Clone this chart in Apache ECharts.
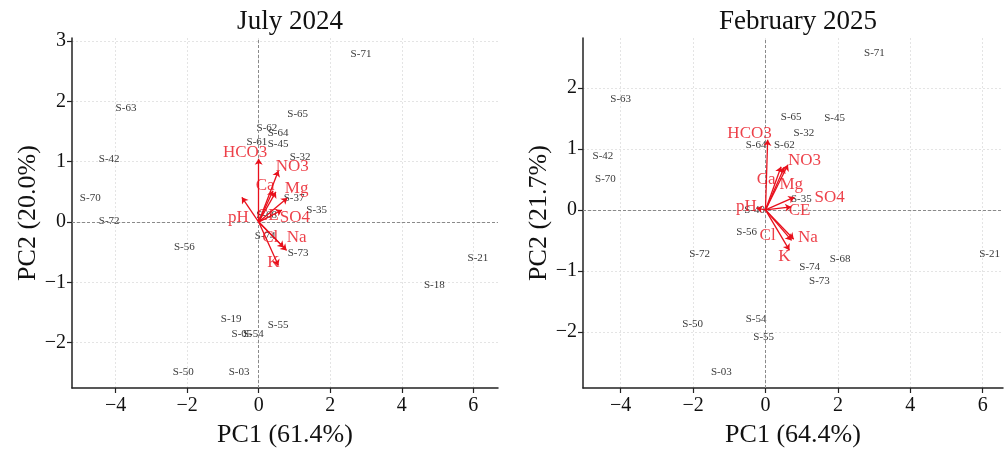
<!DOCTYPE html>
<html>
<head>
<meta charset="utf-8">
<script src="https://cdn.jsdelivr.net/npm/echarts@6/dist/echarts.min.js"></script>
<style>html,body{margin:0;padding:0;background:#fff}#c{width:1004px;height:452px}</style>
</head>
<body>
<div id="c"></div>
<script>
// ---- July 2024 samples ----
const julNames = ['S-71','S-63','S-65','S-62','S-64','S-61','S-45','S-42','S-32','S-70','S-72','S-37','S-35','S-68','S-56','S-74','S-73','S-21','S-18','S-19','S-55','S-05','S-54','S-50','S-03'];
const julPC1 = [2.86,-3.71,1.09,0.23,0.54,-0.05,0.54,-4.18,1.16,-4.71,-4.18,0.99,1.62,0.22,-2.08,0.18,1.10,6.13,4.91,-0.77,0.54,-0.47,-0.15,-2.11,-0.55];
const julPC2 = [2.78,1.89,1.79,1.55,1.47,1.33,1.29,1.05,1.08,0.40,0.01,0.39,0.19,0.11,-0.42,-0.24,-0.52,-0.59,-1.04,-1.61,-1.71,-1.86,-1.86,-2.48,-2.48];
// ---- February 2025 samples ----
const febNames = ['S-71','S-63','S-65','S-45','S-32','S-64','S-62','S-42','S-70','S-35','S-40','S-56','S-72','S-21','S-68','S-74','S-73','S-54','S-55','S-50','S-03'];
const febPC1 = [3.01,-4.00,0.71,1.91,1.06,-0.26,0.52,-4.49,-4.42,0.99,-0.30,-0.52,-1.82,6.19,2.06,1.22,1.49,-0.26,-0.05,-2.01,-1.22];
const febPC2 = [2.57,1.82,1.52,1.51,1.26,1.07,1.07,0.88,0.50,0.17,0.00,-0.37,-0.72,-0.72,-0.80,-0.94,-1.16,-1.79,-2.08,-1.88,-2.66];
// ---- loadings (arrow tips) and label anchors ----
const variables = ['HCO3','Ca','NO3','Mg','SO4','CE','pH','Cl','Na','K'];
const julLoadX = [0.00,0.40,0.55,0.80,0.65,0.48,-0.47,0.70,0.78,0.55];
const julLoadY = [1.05,0.52,0.85,0.40,0.20,0.50,0.41,-0.42,-0.47,-0.72];
const julLabX  = [-0.38,0.18,0.94,1.06,1.01,0.25,-0.57,0.32,1.06,0.41];
const julLabY  = [1.16,0.60,0.92,0.55,0.07,0.11,0.08,-0.25,-0.26,-0.67];
const febLoadX = [0.06,0.43,0.62,0.52,0.80,0.71,-0.25,0.72,0.78,0.66];
const febLoadY = [1.15,0.71,0.74,0.70,0.21,0.05,0.03,-0.50,-0.48,-0.66];
const febLabX  = [-0.44,0.02,1.08,0.71,1.77,0.94,-0.53,0.06,1.17,0.52];
const febLabY  = [1.26,0.50,0.81,0.42,0.20,-0.01,0.06,-0.42,-0.45,-0.77];
// ---- axes ----
const julXTicks = [-4,-2,0,2,4,6];
const julYTicks = [-2,-1,0,1,2,3];
const febXTicks = [-4,-2,0,2,4,6];
const febYTicks = [-2,-1,0,1,2];

const FONT = 'Liberation Serif';
const RED = '#e8101c';
const fmt = v => (v < 0 ? '\u2212' + Math.abs(v) : String(v));

function xAxis(idx, min, max, ticks, name) {
  return {
    type: 'value', gridIndex: idx, min: min, max: max,
    name: name, nameLocation: 'middle', nameGap: 34,
    nameTextStyle: {fontFamily: FONT, fontSize: 26, color: '#111'},
    axisLine: {show: true, onZero: false, lineStyle: {color: '#222', width: 1.5}},
    axisTick: {show: true, length: 5, lineStyle: {color: '#222', width: 1.2}, customValues: ticks},
    axisLabel: {fontFamily: FONT, fontSize: 20, color: '#111', margin: 8, customValues: ticks, formatter: fmt},
    splitLine: {show: true, lineStyle: {color: '#e4e4e4', type: [2, 2], width: 1}}
  };
}
function yAxis(idx, min, max, ticks, name, gap) {
  return {
    type: 'value', gridIndex: idx, min: min, max: max,
    name: name, nameLocation: 'middle', nameGap: gap, nameRotate: 90,
    nameTextStyle: {fontFamily: FONT, fontSize: 26, color: '#111'},
    axisLine: {show: true, onZero: false, lineStyle: {color: '#222', width: 1.5}},
    axisTick: {show: true, length: 5, lineStyle: {color: '#222', width: 1.2}, customValues: ticks},
    axisLabel: {fontFamily: FONT, fontSize: 20, color: '#111', margin: 6, customValues: ticks, formatter: fmt},
    splitLine: {show: true, lineStyle: {color: '#e4e4e4', type: [2, 2], width: 1}}
  };
}
function sampleSeries(idx, names, xs, ys) {
  return {
    type: 'scatter', xAxisIndex: idx, yAxisIndex: idx, symbolSize: 0, z: 3,
    data: names.map((n, i) => ({name: n, value: [xs[i], ys[i]]})),
    label: {show: true, position: 'inside', formatter: p => p.name, fontFamily: FONT, fontSize: 11, color: '#000'},
    emphasis: {disabled: true},
    markLine: {
      silent: true, symbol: 'none', animation: false,
      lineStyle: {color: '#8a8a8a', type: [3, 2], width: 1},
      label: {show: false},
      data: [{xAxis: 0}, {yAxis: 0}]
    }
  };
}
function arrowSeries(idx, xs, ys) {
  return {
    type: 'lines', coordinateSystem: 'cartesian2d', xAxisIndex: idx, yAxisIndex: idx, z: 5,
    symbol: ['none', 'arrow'], symbolSize: 6,
    lineStyle: {color: RED, width: 1.3, opacity: 1},
    data: xs.map((x, i) => ({coords: [[0, 0], [x, ys[i]]]}))
  };
}
function loadLabelSeries(idx, lx, ly) {
  return {
    type: 'scatter', xAxisIndex: idx, yAxisIndex: idx, symbolSize: 0, z: 6,
    data: variables.map((n, i) => ({name: n, value: [lx[i], ly[i]]})),
    label: {show: true, position: 'inside', formatter: p => p.name, fontFamily: FONT, fontSize: 17, color: RED},
    emphasis: {disabled: true}
  };
}

const chart = echarts.init(document.getElementById('c'), null, {renderer: 'canvas'});
chart.setOption({
  animation: false,
  backgroundColor: '#fff',
  title: [
    {text: 'July 2024', left: 285, top: 3, textAlign: 'center', textStyle: {fontFamily: FONT, fontSize: 27, fontWeight: 'normal', color: '#111'}},
    {text: 'February 2025', left: 793, top: 3, textAlign: 'center', textStyle: {fontFamily: FONT, fontSize: 27, fontWeight: 'normal', color: '#111'}}
  ],
  grid: [
    {left: 72, top: 38, width: 426, height: 350, outerBoundsMode: 'none', containLabel: false},
    {left: 583, top: 38, width: 420, height: 350, outerBoundsMode: 'none', containLabel: false}
  ],
  xAxis: [
    xAxis(0, -5.22, 6.69, julXTicks, 'PC1 (61.4%)'),
    xAxis(1, -5.04, 6.56, febXTicks, 'PC1 (64.4%)')
  ],
  yAxis: [
    yAxis(0, -2.75, 3.05, julYTicks, 'PC2 (20.0%)', 30),
    yAxis(1, -2.92, 2.82, febYTicks, 'PC2 (21.7%)', 29)
  ],
  series: [
    sampleSeries(0, julNames, julPC1, julPC2),
    arrowSeries(0, julLoadX, julLoadY),
    loadLabelSeries(0, julLabX, julLabY),
    sampleSeries(1, febNames, febPC1, febPC2),
    arrowSeries(1, febLoadX, febLoadY),
    loadLabelSeries(1, febLabX, febLabY)
  ]
});
</script>
</body>
</html>
